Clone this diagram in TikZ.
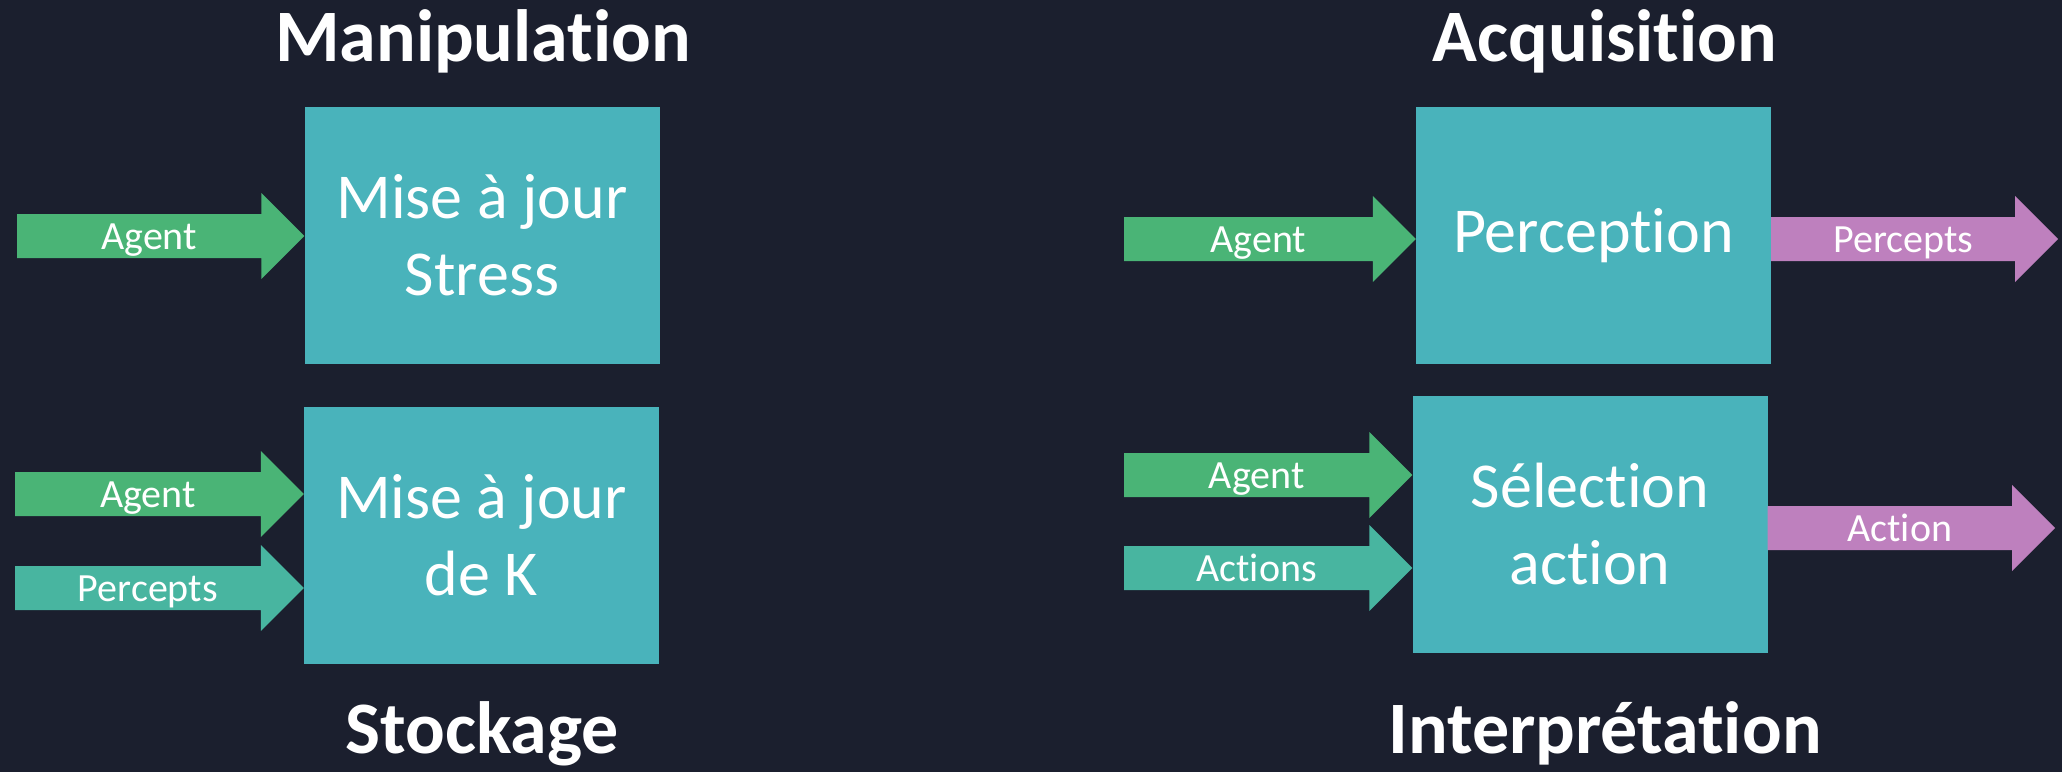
\documentclass[tikz,border=0pt]{standalone}
\usepackage{fontspec}
\setmainfont{Carlito}[RawFeature={-liga;-clig;-calt;-dlig}]
\usetikzlibrary{calc}
\definecolor{cfond}{HTML}{1B1F2E}
\definecolor{cboite}{HTML}{49B3BB}
\definecolor{cvert}{HTML}{4AB476}
\definecolor{cturq}{HTML}{48B5A0}
\definecolor{cviolet}{HTML}{BE80BE}
\begin{document}
\begin{tikzpicture}[x=1pt,y=-1pt,
	boite/.style={fill=cboite,text=white,minimum width=355pt,minimum height=257pt,inner sep=0pt,align=center,font=\fontsize{64}{77}\selectfont},
	titre/.style={text=white,anchor=base,font=\fontsize{74}{80}\selectfont\bfseries},
	etiq/.style={text=white,anchor=base,yshift=-13pt,inner sep=0pt,font=\fontsize{40}{48}\selectfont},
	fleche/.style={to path={($(\tikztostart)+(0,-22)$) -- ($(\tikztotarget)+(-43,-22)$) -- ($(\tikztotarget)+(-43,-43)$) -- (\tikztotarget) -- ($(\tikztotarget)+(-43,43)$) -- ($(\tikztotarget)+(-43,22)$) -- ($(\tikztostart)+(0,22)$) -- cycle}}]
			%Fond
			\useasboundingbox (0,0) rectangle (2062,772);
			\fill[cfond] (0,0) rectangle (2062,772);
			%Titres
			\node[titre] (t1) at (483,61) {Manipulation};
			\node[titre] (t2) at (1605,61) {Acquisition};
			\node[titre] (t3) at (482,753) {Stockage};
			\node[titre] (t4) at (1605,753) {Interprétation};
			%Boites
			\node[boite] (b1) at (482,235.5) {Mise à jour\\Stress};
			\node[boite] (b2) at (481.5,535.5) {Mise à jour\\de K};
			\node[boite] (b3) at (1593.5,235.5) {Perception};
			\node[boite] (b4) at (1590,524.5) {Sélection\\action};
			%Entrees
			\coordinate (e1) at (17,236);
			\coordinate (e2) at (15,494);
			\coordinate (e3) at (15,588);
			\coordinate (e4) at (1124,239);
			\coordinate (e5) at (1124,475);
			\coordinate (e6) at (1124,568);
			%Sorties
			\coordinate (s1) at (2058,239);
			\coordinate (s2) at (2055,528);
			%Fleches Manipulation / Stockage
			\fill[cvert] (e1) to[fleche] (b1.west |- e1);
			\node[etiq] (l1) at ($(e1)!0.46!(b1.west |- e1)$) {Agent};
			\fill[cvert] (e2) to[fleche] (b2.west |- e2);
			\node[etiq] (l2) at ($(e2)!0.46!(b2.west |- e2)$) {Agent};
			\fill[cturq] (e3) to[fleche] (b2.west |- e3);
			\node[etiq] (l3) at ($(e3)!0.46!(b2.west |- e3)$) {Percepts};
			%Fleches Acquisition / Interpretation
			\fill[cvert] (e4) to[fleche] (b3.west |- e4);
			\node[etiq] (l4) at ($(e4)!0.46!(b3.west |- e4)$) {Agent};
			\fill[cvert] (e5) to[fleche] (b4.west |- e5);
			\node[etiq] (l5) at ($(e5)!0.46!(b4.west |- e5)$) {Agent};
			\fill[cturq] (e6) to[fleche] (b4.west |- e6);
			\node[etiq] (l6) at ($(e6)!0.46!(b4.west |- e6)$) {Actions};
			%Sorties
			\fill[cviolet] (b3.east |- s1) to[fleche] (s1);
			\node[etiq] (l7) at ($(b3.east |- s1)!0.46!(s1)$) {Percepts};
			\fill[cviolet] (b4.east |- s2) to[fleche] (s2);
			\node[etiq] (l8) at ($(b4.east |- s2)!0.46!(s2)$) {Action};
\end{tikzpicture}
\end{document}
